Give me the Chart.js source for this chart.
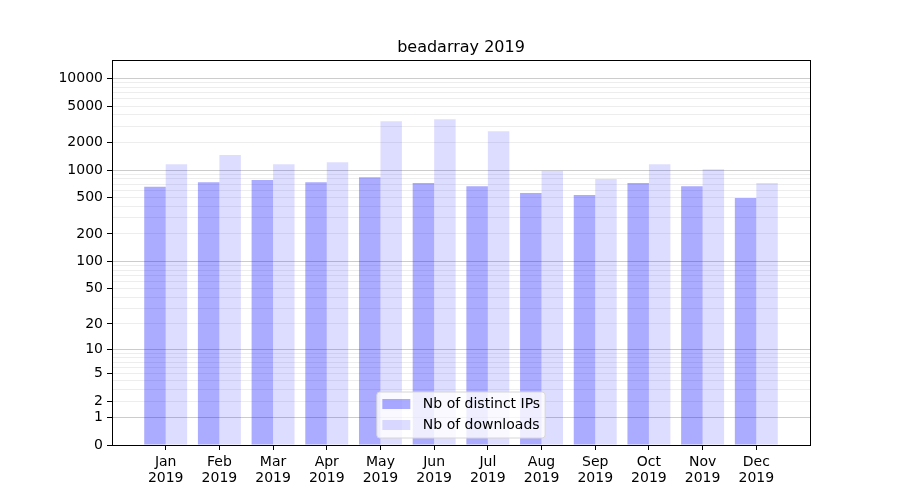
<!DOCTYPE html>
<html>
<head>
<meta charset="utf-8">
<script src="https://cdn.jsdelivr.net/npm/chart.js@4.4.1/dist/chart.umd.min.js"></script>
<style>
  html, body { margin: 0; padding: 0; background: #fff; }
  #wrap { width: 900px; height: 500px; }
</style>
</head>
<body>
<div id="wrap"><canvas id="grafico"></canvas></div>
<script>
// dados
const months = ['Jan', 'Feb', 'Mar', 'Apr', 'May', 'Jun', 'Jul', 'Aug', 'Sep', 'Oct', 'Nov', 'Dec'];
const year = '2019';
const distinctIPs = [657, 739, 778, 739, 838, 721, 668, 561, 534, 721, 668, 495];
const downloads = [1162, 1458, 1162, 1222, 3423, 3600, 2663, 982, 797, 1162, 1025, 721];
const yTickLabels = [0, 1, 2, 5, 10, 20, 50, 100, 200, 500, 1000, 2000, 5000, 10000];
const yMax = 15850;

// escala log(1 + x), como a do matplotlib
class Log1pScale extends Chart.LinearScale {
    determineDataLimits() {
        this.min = this.options.min ?? 0;
        this.max = this.options.max ?? yMax;
    }
    buildTicks() {
        const ticks = [{ value: 0 }];
        for (let d = 0; d <= 5; d++) {
            for (let n = 1; n <= 9; n++) {
                const v = n * Math.pow(10, d);
                if (v <= this.max) ticks.push({ value: v });
            }
        }
        return ticks;
    }
    getPixelForValue(value) {
        const a = Math.log10(1 + this.min);
        const b = Math.log10(1 + this.max);
        return this.getPixelForDecimal((Math.log10(1 + value) - a) / (b - a));
    }
    getValueForPixel(pixel) {
        const a = Math.log10(1 + this.min);
        const b = Math.log10(1 + this.max);
        return Math.pow(10, a + this.getDecimalForPixel(pixel) * (b - a)) - 1;
    }
}
Log1pScale.id = 'log1p';
Log1pScale.defaults = {};
Chart.register(Log1pScale);

Chart.defaults.font.family = '"DejaVu Sans", sans-serif';
Chart.defaults.color = '#000';

function isMajor(v) {
    return v >= 1 && Math.abs(Math.log10(v) - Math.round(Math.log10(v))) < 1e-9;
}

// moldura em volta da area do grafico
const moldura = {
    id: 'moldura',
    afterDatasetsDraw(chart) {
        const { ctx, chartArea } = chart;
        ctx.save();
        ctx.strokeStyle = '#000';
        ctx.lineWidth = 1;
        ctx.strokeRect(Math.round(chartArea.left) + 0.5, Math.round(chartArea.top) + 0.5,
            Math.round(chartArea.right - chartArea.left), Math.round(chartArea.bottom - chartArea.top));
        ctx.restore();
    }
};

// legenda dentro do grafico, embaixo no centro
const legendaInterna = {
    id: 'legendaInterna',
    afterDraw(chart) {
        const { ctx, chartArea } = chart;
        const items = chart.data.datasets;
        ctx.save();
        ctx.font = '14px "DejaVu Sans"';
        const textW = Math.max(...items.map(d => ctx.measureText(d.label).width));
        const w = 5.5 + 28 + 12.5 + textW + 5;
        const h = 46;
        const x = (chartArea.left + chartArea.right) / 2 - w / 2;
        const y = chartArea.bottom - 7 - h;
        ctx.fillStyle = 'rgba(255,255,255,0.8)';
        ctx.strokeStyle = '#d6d6d6';
        ctx.lineWidth = 1;
        ctx.beginPath();
        ctx.roundRect(x, y, w, h, 3);
        ctx.fill();
        ctx.stroke();
        items.forEach((d, i) => {
            const cy = y + 12 + i * 21;
            ctx.fillStyle = d.backgroundColor;
            ctx.fillRect(x + 5.5, cy - 5, 28, 10);
            ctx.fillStyle = '#000';
            ctx.textBaseline = 'middle';
            ctx.fillText(d.label, x + 5.5 + 28 + 12.5, cy);
        });
        ctx.restore();
    }
};

// uma categoria vazia de cada lado, como a margem do matplotlib
const labels = [''].concat(months.map(m => [m, year]), ['']);
const pad = arr => [null].concat(arr, [null]);

new Chart(document.getElementById('grafico'), {
    type: 'bar',
    data: {
        labels: labels,
        datasets: [{
            label: 'Nb of distinct IPs',
            data: pad(distinctIPs),
            backgroundColor: 'rgba(0,0,255,0.33)',
            borderWidth: 0,
            categoryPercentage: 0.8,
            barPercentage: 1.0
        }, {
            label: 'Nb of downloads',
            data: pad(downloads),
            backgroundColor: 'rgba(0,0,255,0.134)',
            borderWidth: 0,
            categoryPercentage: 0.8,
            barPercentage: 1.0
        }]
    },
    options: {
        responsive: true,
        maintainAspectRatio: false,
        animation: false,
        layout: { padding: { left: 0, right: 90, top: 0, bottom: 0 } },
        plugins: {
            legend: { display: false },
            tooltip: { enabled: false },
            title: {
                display: true,
                text: 'beadarray 2019',
                fullSize: false,
                color: '#000',
                font: { size: 16, weight: 'normal' },
                padding: { top: 38, bottom: 3 }
            }
        },
        scales: {
            x: {
                offset: false,
                grid: {
                    display: true,
                    offset: false,
                    drawOnChartArea: false,
                    drawTicks: true,
                    tickLength: 5,
                    tickColor: ctx => (ctx.index === 0 || ctx.index === labels.length - 1) ? 'rgba(0,0,0,0)' : '#000'
                },
                border: { display: false },
                ticks: {
                    autoSkip: false,
                    maxRotation: 0,
                    padding: 4,
                    color: '#000',
                    font: { size: 14, lineHeight: 1.15 }
                },
                afterFit: scale => { scale.height = 55; }
            },
            y: {
                type: 'log1p',
                min: 0,
                max: yMax,
                grid: {
                    drawTicks: true,
                    tickLength: 5,
                    color: ctx => isMajor(ctx.tick.value) ? 'rgba(0,0,0,0.2)' : 'rgba(0,0,0,0.07)',
                    tickColor: ctx => yTickLabels.includes(ctx.tick.value) ? '#000' : 'rgba(0,0,0,0)'
                },
                border: { display: false },
                ticks: {
                    autoSkip: false,
                    padding: 4,
                    color: '#000',
                    font: { size: 14 },
                    callback: value => yTickLabels.includes(value) ? String(value) : ''
                },
                afterFit: scale => { scale.width = 112; }
            }
        }
    },
    plugins: [moldura, legendaInterna]
});
</script>
</body>
</html>
